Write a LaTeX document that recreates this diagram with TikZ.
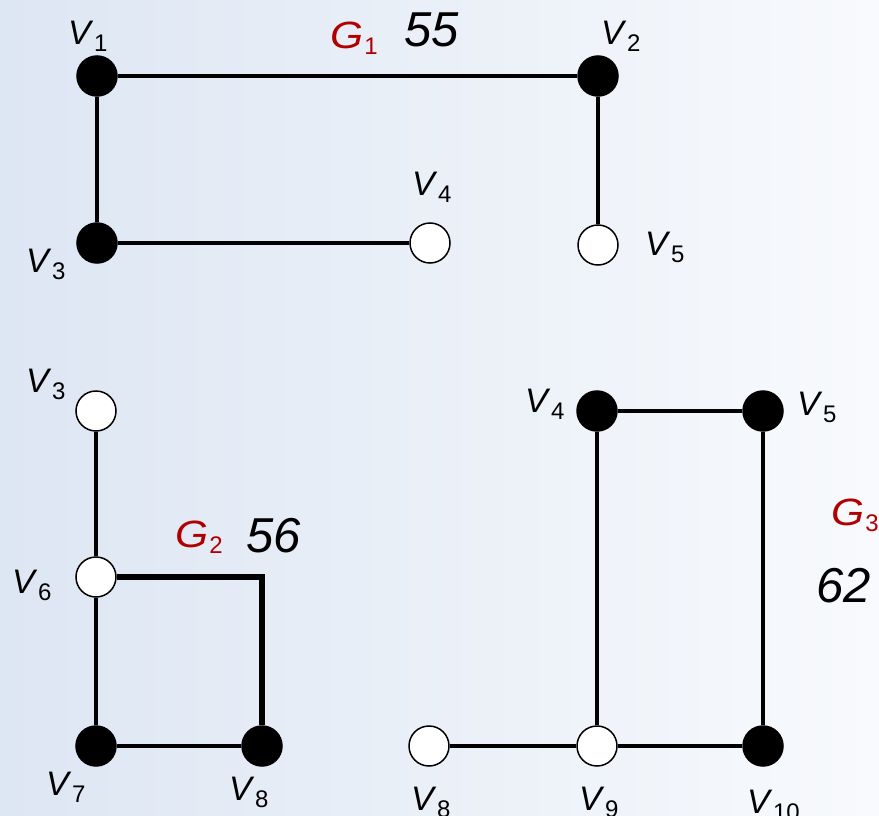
\documentclass[tikz,border=0pt]{standalone}
\usepackage{fontspec}
\setmainfont{Liberation Sans}
\definecolor{gred}{RGB}{176,0,0}
\definecolor{bgL}{RGB}{221,230,243}
\definecolor{bgR}{RGB}{248,250,253}
\newcommand\Vl[1]{\textit{V}\kern0.5bp\raisebox{-7bp}{\fontsize{24bp}{24bp}\selectfont #1}}
\newcommand\Gl[1]{{\color{gred}\scalebox{1.12}[1]{\textit{G}}\kern1bp\raisebox{-6bp}{\fontsize{24bp}{24bp}\selectfont #1}}}
\begin{document}
\begin{tikzpicture}[x=1bp,y=-1bp,
  bn/.style={circle,draw=black,fill=black,line width=1.5bp,minimum size=40bp,inner sep=0pt},
  wn/.style={circle,draw=black,fill=white,line width=1.5bp,minimum size=40bp,inner sep=0pt},
  edge/.style={draw=black,line width=3.5bp},
  thickedge/.style={draw=black,line width=5.5bp},
  lbl/.style={anchor=base west,inner sep=0pt,font=\fontsize{34bp}{34bp}\selectfont},
  num/.style={anchor=base west,inner sep=0pt,font=\fontsize{49bp}{49bp}\selectfont\itshape},
  glbl/.style={anchor=base west,inner sep=0pt,font=\fontsize{38bp}{38bp}\selectfont}]
\shade[left color=bgL,right color=bgR] (0,0) rectangle (879,816);
\useasboundingbox (0,0) rectangle (879,816);
% G1
\node[bn] (a1) at (97,76) {};
\node[bn] (a2) at (598,76) {};
\node[bn] (a3) at (97,243) {};
\node[wn] (a4) at (430,243) {};
\node[wn] (a5) at (598,245) {};
\draw[edge] (a1) -- (a2);
\draw[edge] (a1) -- (a3);
\draw[edge] (a3) -- (a4);
\draw[edge] (a2) -- (a5);
\node[lbl] (la1) at (68,45) {\Vl{1}};
\node[lbl] (la2) at (601,45) {\Vl{2}};
\node[lbl] (la3) at (26,272) {\Vl{3}};
\node[lbl] (la4) at (412,195) {\Vl{4}};
\node[lbl] (la5) at (645,255) {\Vl{5}};
\node[glbl] (g1) at (330,49) {\Gl{1}};
\node[num] (n1) at (404,47) {55};
% G2
\node[wn] (b3) at (96,411) {};
\node[wn] (b6) at (96,577) {};
\node[bn] (b7) at (96,746) {};
\node[bn] (b8) at (262,746) {};
\draw[edge] (b3) -- (b6);
\draw[edge] (b6) -- (b7);
\draw[edge] (b7) -- (b8);
\draw[thickedge] (b6) -| (b8);
\node[lbl] (lb3) at (26,392) {\Vl{3}};
\node[lbl] (lb6) at (12,593) {\Vl{6}};
\node[lbl] (lb7) at (46,795) {\Vl{7}};
\node[lbl] (lb8) at (229,800) {\Vl{8}};
\node[glbl] (g2) at (175,547) {\Gl{2}};
\node[num] (n2) at (246,552) {56};
% G3
\node[bn] (c4) at (597,411) {};
\node[bn] (c5) at (763,411) {};
\node[wn] (c8) at (429,746) {};
\node[wn] (c9) at (597,746) {};
\node[bn] (c10) at (763,746) {};
\draw[edge] (c4) -- (c5);
\draw[edge] (c4) -- (c9);
\draw[edge] (c5) -- (c10);
\draw[edge] (c8) -- (c9);
\draw[edge] (c9) -- (c10);
\node[lbl] (lc4) at (525,412) {\Vl{4}};
\node[lbl] (lc5) at (797,415) {\Vl{5}};
\node[lbl] (lc8) at (411,810) {\Vl{8}};
\node[lbl] (lc9) at (579,810) {\Vl{9}};
\node[lbl] (lc10) at (747,813) {\Vl{10}};
\node[glbl] (g3) at (831,525) {\Gl{3}};
\node[num] (n3) at (816,602) {62};
\end{tikzpicture}
\end{document}
